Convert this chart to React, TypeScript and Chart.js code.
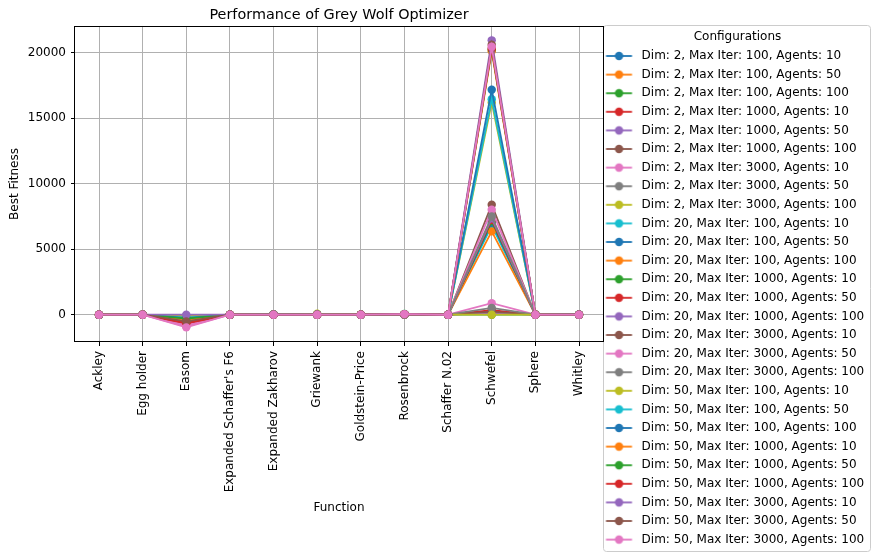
import React, { useEffect, useRef } from "react";
import { Chart, registerables } from "chart.js";

Chart.register(...registerables);

const categories = [
  "Ackley",
  "Egg holder",
  "Easom",
  "Expanded Schaffer's F6",
  "Expanded Zakharov",
  "Griewank",
  "Goldstein-Price",
  "Rosenbrock",
  "Schaffer N.02",
  "Schwefel",
  "Sphere",
  "Whitley",
];

const dims = [2, 20, 50];
const maxIters = [100, 1000, 3000];
const agentCounts = [10, 50, 100];

const palette = [
  "#1f77b4", "#ff7f0e", "#2ca02c", "#d62728", "#9467bd",
  "#8c564b", "#e377c2", "#7f7f7f", "#bcbd22", "#17becf",
];

// Values per function, one entry per configuration (27 configurations)
const ackley = [0, 0, 0, 0, 0, 0, 0, 0, 0, 2.1, 0.4, 0.1, 0, 0, 0, 0, 0, 0, 8.5, 3.2, 1.9, 0.1, 0, 0, 0, 0, 0];
const eggHolder = [-1, -1, -1, -1, -1, -1, -1, -1, -1, 0, 0, 0, 0, 0, 0, 0, 0, 0, 0, 0, 0, 0, 0, 0, 0, 0, 0];
const easom = [-350, -420, -250, -600, -150, -700, -800, -300, -100, -200, -380, -450, -330, -550, -480, -620, -900, -400, -120, -220, -260, -420, -300, -650, 0, -510, -965];
const schafferF6 = [0, 0, 0, 0, 0, 0, 0, 0, 0, 3.1, 2.4, 2.0, 1.2, 0.9, 0.8, 0.7, 0.5, 0.4, 11.8, 9.6, 8.7, 5.2, 4.4, 3.9, 3.6, 3.1, 2.8];
const zakharov = [0, 0, 0, 0, 0, 0, 0, 0, 0, 12, 5, 3, 0, 0, 0, 0, 0, 0, 45, 30, 22, 2, 1, 0.5, 0.2, 0.1, 0];
const griewank = [0, 0, 0, 0, 0, 0, 0, 0, 0, 1.2, 0.6, 0.4, 0, 0, 0, 0, 0, 0, 70, 25, 12, 0.5, 0.2, 0.1, 0, 0, 0];
const goldsteinPrice = [3, 3, 3, 3, 3, 3, 3, 3, 3, 3, 3, 3, 3, 3, 3, 3, 3, 3, 30, 3, 3, 3, 3, 3, 3, 3, 3];
const rosenbrock = [0.1, 0, 0, 0, 0, 0, 0, 0, 0, 18.5, 18.2, 18.0, 17.5, 17.1, 16.8, 16.0, 15.5, 15.2, 55, 50, 48.5, 47.8, 47.2, 46.9, 46.5, 46.1, 45.8];
const schafferN2 = [0, 0, 0, 0, 0, 0, 0, 0, 0, 0, 0, 0, 0, 0, 0, 0, 0, 0, 0, 0, 0, 0, 0, 0, 0, 0, 0];
const schwefel = [237, 118, 0, 355, 118, 237, 880, 520, 0, 6800, 7020, 6360, 7150, 7250, 7350, 8400, 8020, 7500, 16200, 16450, 17170, 20100, 20250, 20300, 20940, 20600, 20450];
const sphere = [0, 0, 0, 0, 0, 0, 0, 0, 0, 0.01, 0, 0, 0, 0, 0, 0, 0, 0, 15, 2, 1, 0, 0, 0, 0, 0, 0];
const whitley = [0, 0, 0, 0, 0, 0, 0, 0, 0, 8, 6, 5, 2, 1, 1, 1, 0, 0, 25, 20, 18, 10, 8, 7, 6, 5, 4];

const functionValues = [
  ackley, eggHolder, easom, schafferF6, zakharov, griewank,
  goldsteinPrice, rosenbrock, schafferN2, schwefel, sphere, whitley,
];

const yTicks = [0, 5000, 10000, 15000, 20000];

const configLabels: string[] = [];
dims.forEach((d) =>
  maxIters.forEach((it) =>
    agentCounts.forEach((a) =>
      configLabels.push(`Dim: ${d}, Max Iter: ${it}, Agents: ${a}`)
    )
  )
);

const FONT = "'DejaVu Sans', 'Liberation Sans', sans-serif";

function makeHandle(color: string) {
  const c = document.createElement("canvas");
  c.width = 40;
  c.height = 12;
  const g = c.getContext("2d")!;
  g.strokeStyle = color;
  g.lineWidth = 1.8;
  g.beginPath();
  g.moveTo(3.4, 6);
  g.lineTo(29.4, 6);
  g.stroke();
  g.fillStyle = color;
  g.beginPath();
  g.arc(16.4, 6, 4.2, 0, Math.PI * 2);
  g.fill();
  return c;
}

const framePlugin = {
  id: "mplFrame",
  afterDraw(chart: any) {
    const { ctx, chartArea: a, legend } = chart;
    ctx.save();
    // legend frame
    const l = legend.left + 0.5;
    const t = 25.5;
    const r = legend.right - 1.5;
    const b = 551.5;
    const rad = 3;
    ctx.strokeStyle = "#cccccc";
    ctx.lineWidth = 1;
    ctx.beginPath();
    ctx.moveTo(l + rad, t);
    ctx.lineTo(r - rad, t);
    ctx.arcTo(r, t, r, t + rad, rad);
    ctx.lineTo(r, b - rad);
    ctx.arcTo(r, b, r - rad, b, rad);
    ctx.lineTo(l + rad, b);
    ctx.arcTo(l, b, l, b - rad, rad);
    ctx.lineTo(l, t + rad);
    ctx.arcTo(l, t, l + rad, t, rad);
    ctx.closePath();
    ctx.stroke();
    // axes spines
    ctx.strokeStyle = "#000";
    ctx.lineWidth = 1;
    ctx.strokeRect(
      Math.round(a.left) - 0.5,
      Math.round(a.top) + 0.5,
      Math.round(a.right) - Math.round(a.left) + 1,
      Math.round(a.bottom) - Math.round(a.top) - 1
    );
    ctx.restore();
  },
};

export default function App() {
  const ref = useRef<HTMLCanvasElement>(null);

  useEffect(() => {
    if (!ref.current) return;
    const handles = configLabels.map((_, i) => makeHandle(palette[i % 10]));
    const datasets = configLabels.map((label, i) => {
      const color = palette[i % 10];
      return {
        label,
        data: functionValues.map((vals, ci) => ({ x: ci, y: vals[i] })),
        borderColor: color,
        backgroundColor: color,
        pointBackgroundColor: color,
        pointBorderColor: color,
        pointBorderWidth: 0,
        pointRadius: 4.2,
        borderWidth: 1.8,
        tension: 0,
        order: -i,
      };
    });

    const chart = new Chart(ref.current, {
      type: "line",
      data: { datasets },
      plugins: [framePlugin],
      options: {
        responsive: false,
        animation: false,
        devicePixelRatio: 1,
        layout: { padding: 0 },
        font: { family: FONT },
        color: "#000",
        plugins: {
          tooltip: { enabled: false },
          title: {
            display: true,
            text: "Performance of Grey Wolf Optimizer",
            color: "#000",
            fullSize: false,
            font: { family: FONT, size: 14.4, weight: "normal", lineHeight: 1.2 },
            padding: { top: 6.2, bottom: 2.5 },
          },
          legend: {
            display: true,
            position: "right",
            align: "start",
            fullSize: true,
            maxWidth: 269,
            title: {
              display: true,
              text: "Configurations",
              color: "#000",
              font: { family: FONT, size: 12, lineHeight: 1 },
              padding: { top: 31, bottom: 0.4 },
            },
            labels: {
              usePointStyle: true,
              pointStyleWidth: 26,
              padding: 6.6,
              color: "#000",
              font: { family: FONT, size: 12 },
              generateLabels: (c: any) =>
                c.data.datasets.map((ds: any, i: number) => ({
                  text: ds.label,
                  pointStyle: handles[i],
                  datasetIndex: i,
                  hidden: false,
                  fillStyle: ds.borderColor,
                  strokeStyle: ds.borderColor,
                  lineWidth: 0,
                  fontColor: "#000",
                })),
            },
          },
        },
        scales: {
          x: {
            type: "linear",
            min: -0.55,
            max: 11.55,
            afterBuildTicks: (s: any) => {
              s.ticks = categories.map((_, i) => ({ value: i }));
            },
            afterFit: (s: any) => {
              s.height = 212;
            },
            border: { display: false },
            grid: { color: "#b0b0b0", lineWidth: 1, tickColor: "#000", tickLength: 4, drawTicks: true },
            ticks: {
              autoSkip: false,
              maxRotation: 90,
              minRotation: 90,
              padding: 5,
              color: "#000",
              font: { family: FONT, size: 12 },
              callback: (v: any) => categories[v as number],
            },
            title: {
              display: true,
              text: "Function",
              color: "#000",
              font: { family: FONT, size: 12 },
              padding: { top: 4, bottom: 39 },
            },
          },
          y: {
            type: "linear",
            min: -2082,
            max: 22036,
            afterBuildTicks: (s: any) => {
              s.ticks = yTicks.map((v) => ({ value: v }));
            },
            afterFit: (s: any) => {
              s.width = 75;
            },
            border: { display: false },
            grid: { color: "#b0b0b0", lineWidth: 1, tickColor: "#000", tickLength: 4, drawTicks: true },
            ticks: {
              padding: 5,
              color: "#000",
              font: { family: FONT, size: 12 },
              callback: (v: any) => String(v),
            },
            title: {
              display: true,
              text: "Best Fitness",
              color: "#000",
              font: { family: FONT, size: 12 },
              padding: { top: 8, bottom: 4 },
            },
          },
        },
      } as any,
    });
    return () => chart.destroy();
  }, []);

  return (
    <div style={{ position: "fixed", left: 0, top: 0, width: 872, height: 554, background: "#fff" }}>
      <canvas ref={ref} width={872} height={554} style={{ width: 872, height: 554 }} />
    </div>
  );
}
